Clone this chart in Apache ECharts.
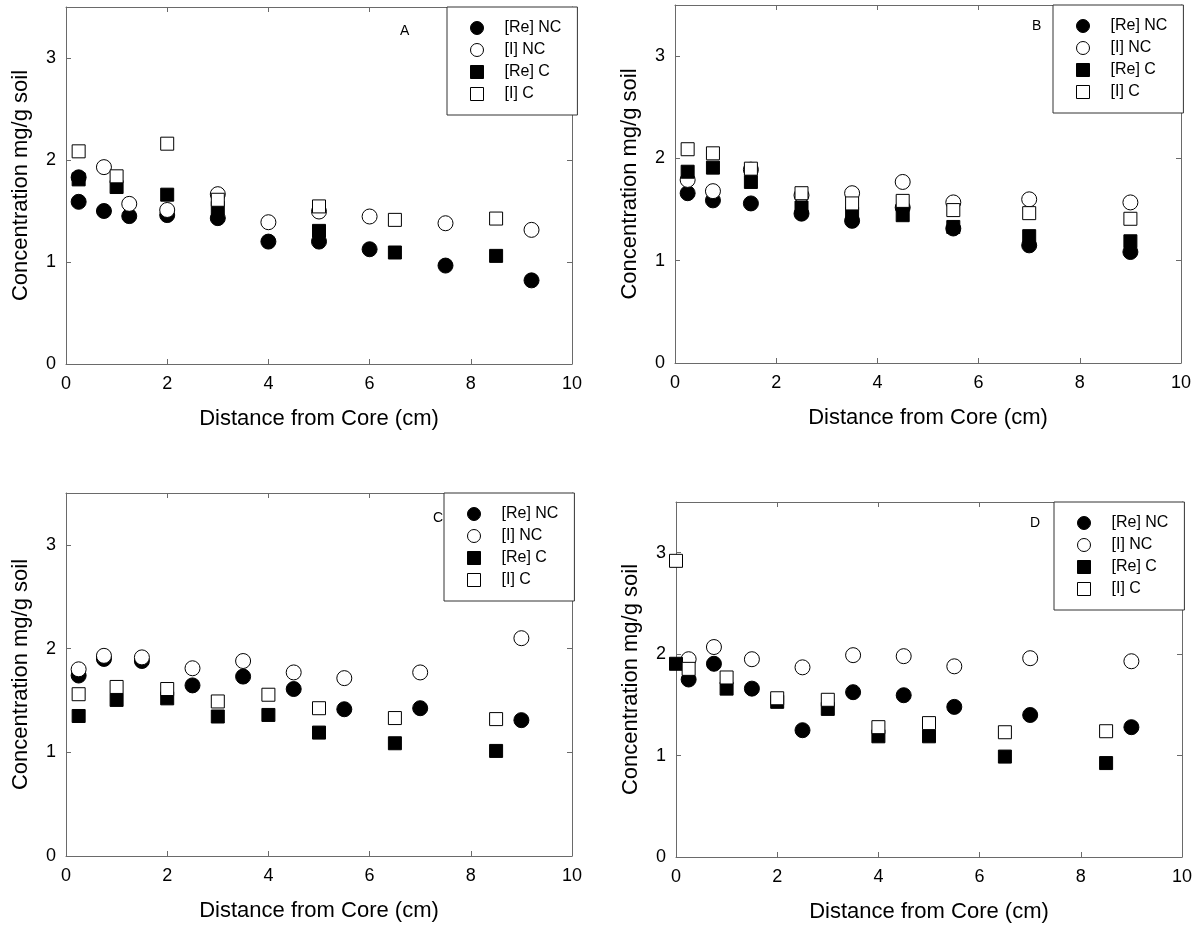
<!DOCTYPE html>
<html>
<head>
<meta charset="utf-8">
<script src="https://cdn.jsdelivr.net/npm/echarts@6/dist/echarts.min.js"></script>
<style>
  html, body { margin: 0; padding: 0; background: #fff; }
  #chart { width: 1204px; height: 930px; }
</style>
</head>
<body>
<div id="chart"></div>
<script>
// ---- Data: distance from core (cm) and concentration (mg/g soil) ----
// Panel A
const distReNC_A = [0.25, 0.25, 0.75, 1.25, 2, 3, 4, 5, 6, 7.5, 9.2];
const reNC_A     = [1.83, 1.59, 1.50, 1.45, 1.46, 1.43, 1.20, 1.20, 1.125, 0.965, 0.82];
const distINC_A  = [0.75, 1.25, 2, 3, 4, 5, 6, 7.5, 9.2];
const iNC_A      = [1.93, 1.57, 1.51, 1.665, 1.39, 1.495, 1.446, 1.38, 1.315];
const distC_A    = [0.25, 1, 2, 3, 5, 6.5, 8.5];
const reC_A      = [1.81, 1.735, 1.66, 1.53, 1.305, 1.093, 1.06];
const iC_A       = [2.085, 1.84, 2.16, 1.61, 1.545, 1.413, 1.426];

// Panel B
const distNC_B = [0.25, 0.75, 1.5, 2.5, 3.5, 4.5, 5.5, 7, 9];
const reNC_B   = [1.66, 1.59, 1.56, 1.46, 1.39, 1.52, 1.315, 1.15, 1.085];
const iNC_B    = [1.79, 1.68, 1.89, 1.64, 1.66, 1.77, 1.57, 1.60, 1.57];
const distC_B  = [0.25, 0.75, 1.5, 2.5, 3.5, 4.5, 5.5, 7, 9];
const reC_B    = [1.87, 1.91, 1.77, 1.52, 1.46, 1.445, 1.33, 1.24, 1.19];
const iC_B     = [2.09, 2.05, 1.90, 1.66, 1.56, 1.585, 1.495, 1.465, 1.41];

// Panel C
const distNC_C = [0.25, 0.75, 1.5, 2.5, 3.5, 4.5, 5.5, 7, 9];
const reNC_C   = [1.74, 1.90, 1.88, 1.645, 1.73, 1.61, 1.415, 1.425, 1.31];
const iNC_C    = [1.80, 1.93, 1.915, 1.81, 1.88, 1.77, 1.715, 1.77, 2.10];
const distC_C  = [0.25, 1, 2, 3, 4, 5, 6.5, 8.5];
const reC_C    = [1.35, 1.505, 1.52, 1.345, 1.36, 1.19, 1.087, 1.013];
const iC_C     = [1.56, 1.63, 1.61, 1.49, 1.555, 1.425, 1.33, 1.32];

// Panel D
const distNC_D  = [0.25, 0.75, 1.5, 2.5, 3.5, 4.5, 5.5, 7, 9];
const reNC_D    = [1.75, 1.905, 1.66, 1.25, 1.625, 1.595, 1.48, 1.40, 1.28];
const iNC_D     = [1.95, 2.07, 1.95, 1.87, 1.99, 1.98, 1.88, 1.96, 1.93];
const distReC_D = [0, 1, 2, 3, 4, 5, 6.5, 8.5];
const reC_D     = [1.905, 1.66, 1.53, 1.46, 1.19, 1.19, 0.99, 0.926];
const distIC_D  = [0, 0.25, 1, 2, 3, 4, 5, 6.5, 8.5];
const iC_D      = [2.92, 1.855, 1.77, 1.565, 1.55, 1.28, 1.32, 1.23, 1.24];

const seriesNames = ['[Re] NC', '[I] NC', '[Re] C', '[I] C'];
const panelLetters = ['A', 'B', 'C', 'D'];
const xTitle = 'Distance from Core (cm)';
const yTitle = 'Concentration mg/g soil';

const panels = [
  [[distReNC_A, reNC_A], [distINC_A, iNC_A], [distC_A, reC_A], [distC_A, iC_A]],
  [[distNC_B, reNC_B], [distNC_B, iNC_B], [distC_B, reC_B], [distC_B, iC_B]],
  [[distNC_C, reNC_C], [distNC_C, iNC_C], [distC_C, reC_C], [distC_C, iC_C]],
  [[distNC_D, reNC_D], [distNC_D, iNC_D], [distReC_D, reC_D], [distIC_D, iC_D]]
];

// ---- Layout ----
const FONT = '"Liberation Sans", Arial, Helvetica, sans-serif';
const AXIS_COLOR = '#6a6a6a';
const grids = [
  { left: 66,  top: 7,   width: 506, height: 357 },
  { left: 675, top: 5,   width: 506, height: 358 },
  { left: 66,  top: 493, width: 506, height: 363 },
  { left: 676, top: 502, width: 506, height: 355 }
];
const legendPos = [
  { left: 447,  top: 7 },
  { left: 1053, top: 5 },
  { left: 444,  top: 493 },
  { left: 1054, top: 502 }
];
const letterPos = [
  { left: 395,  top: 19 },
  { left: 1027, top: 14 },
  { left: 428,  top: 506 },
  { left: 1025, top: 511 }
];

const markerStyles = [
  { symbol: 'circle', symbolSize: 15, itemStyle: { color: '#000', borderColor: '#000', borderWidth: 1, opacity: 1 } },
  { symbol: 'circle', symbolSize: 15, itemStyle: { color: '#fff', borderColor: '#000', borderWidth: 1, opacity: 1 } },
  { symbol: 'rect',   symbolSize: 13, itemStyle: { color: '#000', borderColor: '#000', borderWidth: 1, opacity: 1 } },
  { symbol: 'rect',   symbolSize: 13, itemStyle: { color: '#fff', borderColor: '#000', borderWidth: 1, opacity: 1 } }
];

const xAxes = [], yAxes = [], series = [], legends = [], titles = [];

grids.forEach((g, i) => {
  const baseX = {
    type: 'value', gridIndex: i, min: 0, max: 10, interval: 2,
    axisLine: { show: true, onZero: false, lineStyle: { color: AXIS_COLOR, width: 1 } },
    axisTick: { show: true, inside: true, length: 5, lineStyle: { color: AXIS_COLOR } },
    splitLine: { show: false }
  };
  const baseY = {
    type: 'value', gridIndex: i, min: 0, max: 3.5, interval: 1,
    axisLine: { show: true, onZero: false, lineStyle: { color: AXIS_COLOR, width: 1 } },
    axisTick: { show: true, inside: true, length: 5, lineStyle: { color: AXIS_COLOR } },
    splitLine: { show: false }
  };
  xAxes.push(Object.assign({}, baseX, {
    position: 'bottom',
    axisLabel: { show: true, margin: 11, color: '#000', fontFamily: FONT, fontSize: 18 },
    name: xTitle, nameLocation: 'middle', nameGap: 44,
    nameTextStyle: { color: '#000', fontFamily: FONT, fontSize: 22 }
  }));
  xAxes.push(Object.assign({}, baseX, { position: 'top', axisLabel: { show: false } }));
  yAxes.push(Object.assign({}, baseY, {
    position: 'left',
    axisLabel: {
      show: true, margin: 10, color: '#000', fontFamily: FONT, fontSize: 18,
      formatter: v => (Number.isInteger(v) ? String(v) : '')
    },
    name: yTitle, nameLocation: 'middle', nameGap: 34,
    nameTextStyle: { color: '#000', fontFamily: FONT, fontSize: 22 }
  }));
  yAxes.push(Object.assign({}, baseY, { position: 'right', axisLabel: { show: false } }));

  panels[i].forEach((pair, s) => {
    const [xs, ys] = pair;
    series.push(Object.assign({
      type: 'scatter',
      name: seriesNames[s],
      xAxisIndex: 2 * i,
      yAxisIndex: 2 * i,
      data: xs.map((x, k) => [x, ys[k]]),
      silent: true,
      animation: false
    }, markerStyles[s]));
  });

  legends.push({
    orient: 'vertical',
    left: legendPos[i].left,
    top: legendPos[i].top,
    data: seriesNames.slice(),
    selectedMode: false,
    itemWidth: 13,
    itemHeight: 13,
    itemGap: 6,
    padding: [13, 16, 13, 23],
    backgroundColor: '#fff',
    borderColor: '#333',
    borderWidth: 1,
    itemStyle: { opacity: 1, borderWidth: 1 },
    textStyle: { color: '#000', fontFamily: FONT, fontSize: 16, lineHeight: 16, padding: [0, 0, 0, 16] }
  });

  titles.push({
    text: panelLetters[i],
    left: letterPos[i].left,
    top: letterPos[i].top,
    textStyle: { color: '#000', fontFamily: FONT, fontSize: 14, fontWeight: 'normal' }
  });
});

const chart = echarts.init(document.getElementById('chart'), null, { renderer: 'canvas' });
chart.setOption({
  animation: false,
  backgroundColor: '#fff',
  title: titles,
  grid: grids,
  xAxis: xAxes,
  yAxis: yAxes,
  legend: legends,
  series: series
});
</script>
</body>
</html>
